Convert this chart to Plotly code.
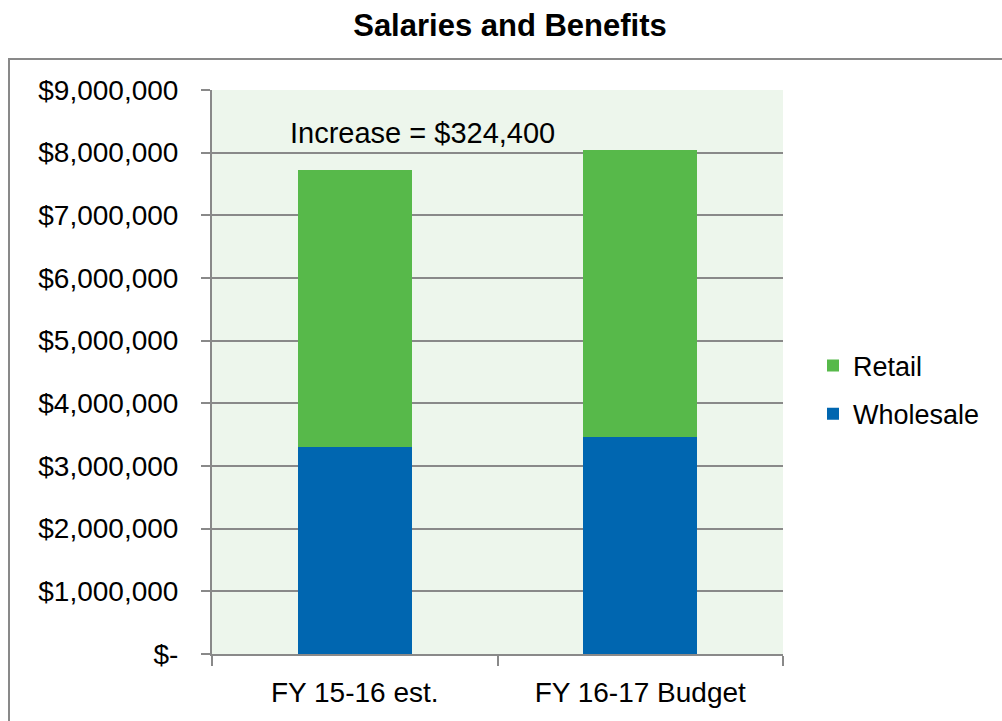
import plotly.graph_objects as go

categories = ["FY 15-16 est.", "FY 16-17 Budget"]
wholesale = [3310000, 3460000]
retail = [4410000, 4584400]
y_tickvals = [0, 1000000, 2000000, 3000000, 4000000, 5000000, 6000000, 7000000, 8000000, 9000000]
y_ticktext = ["$-", "$1,000,000", "$2,000,000", "$3,000,000", "$4,000,000",
              "$5,000,000", "$6,000,000", "$7,000,000", "$8,000,000", "$9,000,000"]
annotation_text = "Increase = $324,400"

W, H = 1002, 721
L, R, T, B = 212, 219, 90, 67
pw, ph = W - L - R, H - T - B

FONT = "Liberation Sans, Arial, sans-serif"
GRID = "#898989"

fig = go.Figure()
fig.add_trace(go.Bar(x=categories, y=wholesale, name="Wholesale", legendrank=2,
                     marker=dict(color="#0066B0", line=dict(width=0)), legendgroup="w"))
fig.add_trace(go.Bar(x=categories, y=retail, name="Retail", legendrank=1,
                     marker=dict(color="#57B94A", line=dict(width=0)), legendgroup="r"))

fig.update_layout(
    width=W, height=H,
    margin=dict(l=L, r=R, t=T, b=B),
    barmode="stack", bargap=0.6,
    plot_bgcolor="#EDF6EC", paper_bgcolor="white",
    font=dict(family=FONT, size=28, color="black"),
    title=dict(text="<b>Salaries and Benefits</b>", x=(510) / W, xanchor="center",
               y=1 - 25 / H, yanchor="middle", yref="container",
               font=dict(family=FONT, size=31, color="black")),
    legend=dict(x=(813 - L) / pw, y=(654 - 390) / ph, xanchor="left", yanchor="middle",
                traceorder="grouped", tracegroupgap=10,
                font=dict(family=FONT, size=27, color="black"), bgcolor="rgba(0,0,0,0)"),
    showlegend=True,
)

fig.update_yaxes(range=[0, 9000000], tickvals=y_tickvals, ticktext=y_ticktext,
                 showgrid=True, gridcolor=GRID, gridwidth=2,
                 showline=True, linecolor=GRID, linewidth=2,
                 ticks="outside", ticklen=9, tickcolor=GRID, tickwidth=2,
                 zeroline=False, ticklabelstandoff=17,
                 tickfont=dict(family=FONT, size=28, color="black"))
fig.update_xaxes(showgrid=False, showline=True, linecolor=GRID, linewidth=2,
                 ticks="outside", tickson="boundaries", ticklen=10, tickcolor=GRID, tickwidth=2,
                 ticklabelstandoff=12,
                 tickfont=dict(family=FONT, size=28, color="black"),
                 mirror=False)

fig.add_annotation(text=annotation_text, xref="paper", yref="y",
                   x=(422 - L) / pw, y=8310000, showarrow=False,
                   xanchor="center", yanchor="middle",
                   font=dict(family=FONT, size=29, color="black"))

# outer chart frame
fig.add_shape(type="rect", xref="paper", yref="paper",
              x0=(9 - L) / pw, x1=(W + 20 - L) / pw,
              y0=-(H + 20 - T - ph) / ph, y1=1 + (T - 59) / ph,
              line=dict(color=GRID, width=2), fillcolor="rgba(0,0,0,0)", layer="below")

fig.write_html("out.html")
